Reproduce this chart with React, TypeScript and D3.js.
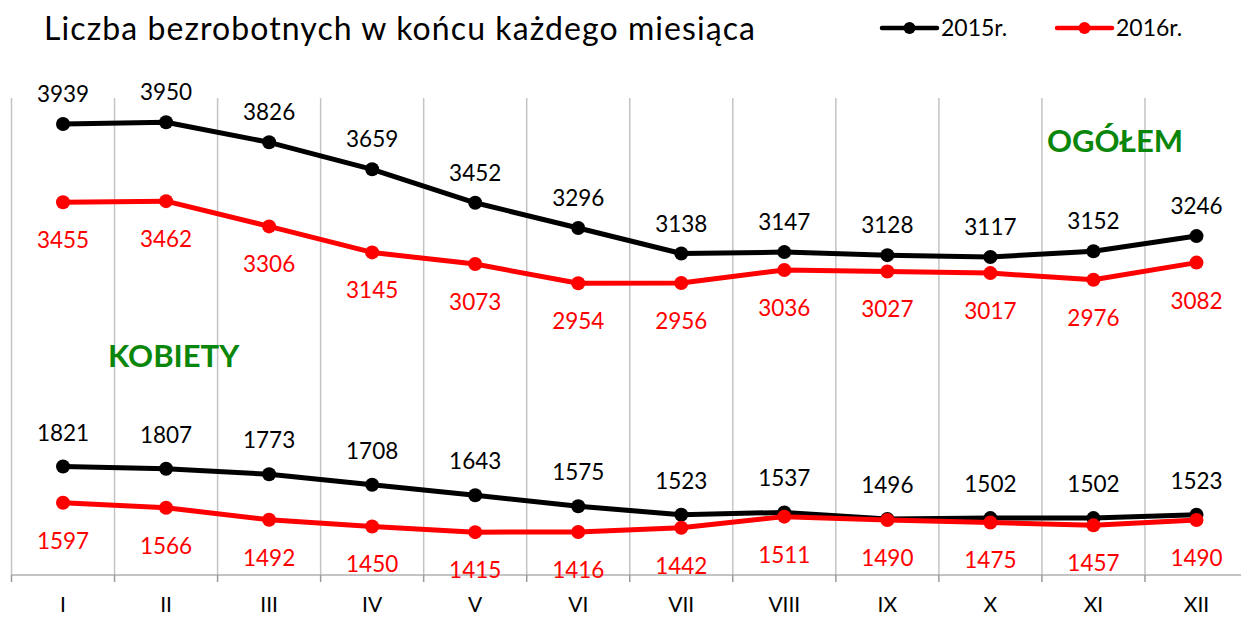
import React from 'react';
import * as d3 from 'd3';

// months (roman numerals on the x axis)
const months = ['I', 'II', 'III', 'IV', 'V', 'VI', 'VII', 'VIII', 'IX', 'X', 'XI', 'XII'];

// OGÓŁEM
const total2015 = [3939, 3950, 3826, 3659, 3452, 3296, 3138, 3147, 3128, 3117, 3152, 3246];
const total2016 = [3455, 3462, 3306, 3145, 3073, 2954, 2956, 3036, 3027, 3017, 2976, 3082];

// KOBIETY
const women2015 = [1821, 1807, 1773, 1708, 1643, 1575, 1523, 1537, 1496, 1502, 1502, 1523];
const women2016 = [1597, 1566, 1492, 1450, 1415, 1416, 1442, 1511, 1490, 1475, 1457, 1490];

const W = 1241;
const H = 618;
const FONT = 'Lato, "Open Sans", sans-serif';
const BLACK = '#000000';
const RED = '#ff0000';
const GREEN = '#0a860a';

const x = d3.scaleBand<string>().domain(months).range([11.5, 1248]);
const y = d3.scaleLinear().domain([1150, 4100]).range([575, 98]);

const line = d3
  .line<number>()
  .x((_, i) => x(months[i])! + x.bandwidth() / 2)
  .y(d => y(d));

type Series = { values: number[]; color: string; labelDy: number };

const series: Series[] = [
  { values: total2015, color: BLACK, labelDy: -22 },
  { values: total2016, color: RED, labelDy: 46 },
  { values: women2015, color: BLACK, labelDy: -26 },
  { values: women2016, color: RED, labelDy: 46 },
];

const App = () => {
  const cx = (i: number) => x(months[i])! + x.bandwidth() / 2;
  const boundaries = months.map(m => x(m)!);
  return (
    <svg
      width={W}
      height={H}
      style={{ position: 'absolute', left: 0, top: 0, background: '#fff' }}
      fontFamily={FONT}
    >
      {/* title */}
      <text x={44} y={40} fontSize={32} fill="#000" textLength={711} lengthAdjust="spacing">
        Liczba bezrobotnych w końcu każdego miesiąca
      </text>

      {/* legend */}
      {[
        { label: '2015r.', color: BLACK, x0: 882 },
        { label: '2016r.', color: RED, x0: 1057 },
      ].map(l => (
        <g key={l.label}>
          <line x1={l.x0} x2={l.x0 + 55} y1={28} y2={28} stroke={l.color} strokeWidth={4.5} strokeLinecap="round" />
          <circle cx={l.x0 + 27.5} cy={28} r={6} fill={l.color} />
          <text x={l.x0 + 59} y={36} fontSize={23} fill="#000">
            {l.label}
          </text>
        </g>
      ))}

      {/* vertical gridlines */}
      {boundaries.map((bx, i) => (
        <line key={i} x1={bx} x2={bx} y1={98} y2={575} stroke="#c4c4c4" strokeWidth={1.5} />
      ))}

      {/* x axis */}
      <line x1={11.5} x2={1248} y1={575} y2={575} stroke="#b0b0b0" strokeWidth={1.5} />
      {boundaries.map((bx, i) => (
        <line key={i} x1={bx} x2={bx} y1={575} y2={582} stroke="#9a9a9a" strokeWidth={1.5} />
      ))}
      {months.map((m, i) => (
        <text key={m} x={cx(i)} y={612} fontSize={21} textAnchor="middle" fill="#000">
          {m}
        </text>
      ))}

      {/* section labels */}
      <text x={1047} y={152} fontSize={31} fontWeight="bold" fill={GREEN}>
        OGÓŁEM
      </text>
      <text x={108} y={367} fontSize={31} fontWeight="bold" fill={GREEN}>
        KOBIETY
      </text>

      {/* series */}
      {series.map((s, si) => (
        <g key={si}>
          <path d={line(s.values)!} fill="none" stroke={s.color} strokeWidth={5} strokeLinejoin="round" />
          {s.values.map((v, i) => (
            <circle key={i} cx={cx(i)} cy={y(v)} r={7} fill={s.color} />
          ))}
          {s.values.map((v, i) => (
            <text key={i} x={cx(i)} y={y(v) + s.labelDy} fontSize={22.5} textAnchor="middle" fill={s.color}>
              {v}
            </text>
          ))}
        </g>
      ))}
    </svg>
  );
};

export default App;
